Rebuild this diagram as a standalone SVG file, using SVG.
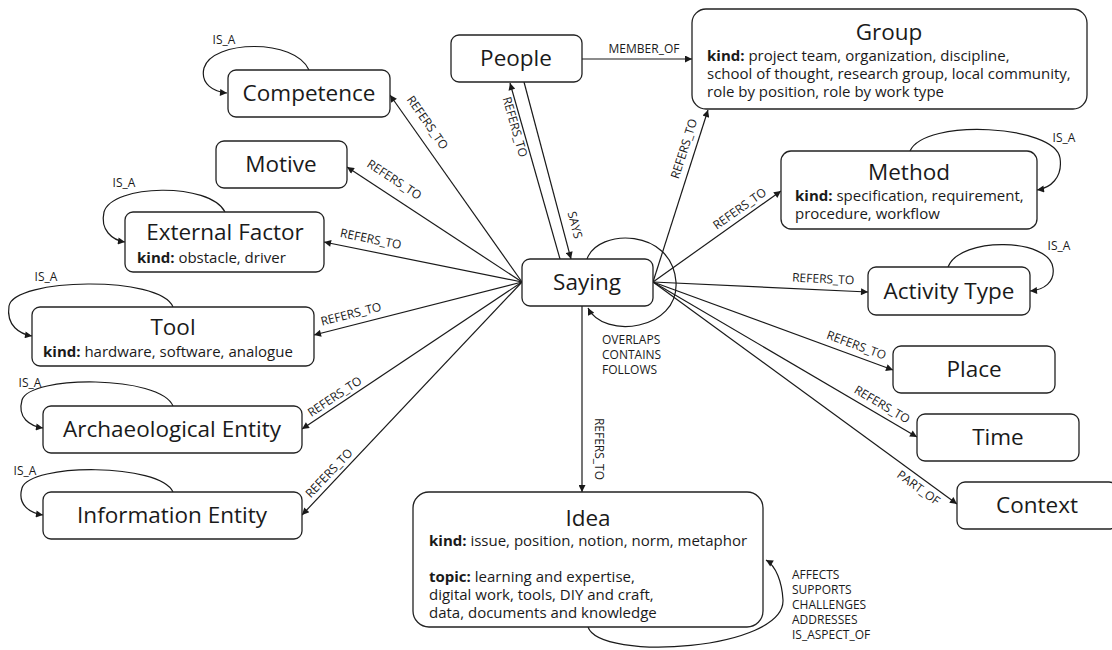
<svg xmlns="http://www.w3.org/2000/svg" width="1112" height="650" viewBox="0 0 1112 650">
<defs>
<marker id="ah" viewBox="0 0 10 10" refX="10" refY="5" markerWidth="9" markerHeight="7" markerUnits="userSpaceOnUse" orient="auto">
<path d="M0,0 L10,5 L0,10 z" fill="#1a1a1a"/>
</marker>
<style>
.box{fill:#fff;stroke:#222;stroke-width:1.3}
.t{font-family:"Open Sans","Noto Sans","DejaVu Sans",sans-serif;font-size:22.5px;fill:#1a1a1a;text-anchor:middle}
.s{font-family:"Open Sans","Noto Sans","DejaVu Sans",sans-serif;font-size:15px;fill:#1a1a1a}
.s tspan.b{font-weight:bold}
.e{fill:none;stroke:#1a1a1a;stroke-width:1.2;marker-end:url(#ah)}
.l{font-family:"Open Sans","Noto Sans","DejaVu Sans",sans-serif;font-size:12px;fill:#1a1a1a;text-anchor:middle}
.la{font-family:"Open Sans","Noto Sans","DejaVu Sans",sans-serif;font-size:12px;fill:#1a1a1a}
</style>
</defs>
<rect width="1112" height="650" fill="#fff"/>

<g id="connectors">
<path class="e" d="M522,282 L390,95"/>
<path class="e" d="M522,282 L347,167"/>
<path class="e" d="M522,282 L324,242"/>
<path class="e" d="M522,282 L314,335"/>
<path class="e" d="M522,282 L302,429"/>
<path class="e" d="M522,282 L302,515"/>
<path class="e" d="M560,259 L510,83"/>
<path class="e" d="M524,82 L571,259"/>
<path class="e" d="M582,59 L692,59"/>
<path class="e" d="M653,282 L708,110"/>
<path class="e" d="M653,282 L781,191"/>
<path class="e" d="M653,282 L868,292"/>
<path class="e" d="M653,282 L893,370"/>
<path class="e" d="M653,282 L917,437"/>
<path class="e" d="M653,282 L957,504"/>
<path class="e" d="M582,306 L582,492"/>
<path class="e" d="M587,259 C598,228 672,228 676,282 C679,330 604,340 588,308"/>
<path class="e" d="M588,627 C600,662 785,650 783,600 C782,582 776,566 766,560"/>
<path class="e" d="M309,70 C295,38 212,40 204,68 C200,84 214,92 227,93"/>
<path class="e" d="M225,212 C210,182 112,184 104,212 C100,230 112,240 125,242"/>
<path class="e" d="M173,307 C160,275 14,278 9,306 C6,326 20,334 32,336"/>
<path class="e" d="M173,406 C160,375 30,375 22,400 C17,418 30,426 43,428"/>
<path class="e" d="M173,492 C160,463 30,463 22,488 C17,505 30,513 43,515"/>
<path class="e" d="M910,151 C925,118 1055,125 1060,158 C1063,178 1050,188 1037,190"/>
<path class="e" d="M948,267 C960,236 1050,238 1053,268 C1055,282 1044,290 1030,291"/>

<text class="l" transform="translate(424,125) rotate(55)">REFERS_TO</text>
<text class="l" transform="translate(392,183) rotate(33.3)">REFERS_TO</text>
<text class="l" transform="translate(370,243) rotate(11.4)">REFERS_TO</text>
<text class="l" transform="translate(352,318) rotate(-14.3)">REFERS_TO</text>
<text class="l" transform="translate(337,400) rotate(-33.7)">REFERS_TO</text>
<text class="l" transform="translate(332,476) rotate(-46.6)">REFERS_TO</text>
<text class="l" transform="translate(511,128) rotate(74)">REFERS_TO</text>
<text class="l" transform="translate(571,226) rotate(75)">SAYS</text>
<text class="l" x="644" y="53">MEMBER_OF</text>
<text class="l" transform="translate(688,150) rotate(-72.3)">REFERS_TO</text>
<text class="l" transform="translate(742,212) rotate(-35.4)">REFERS_TO</text>
<text class="l" transform="translate(823,283) rotate(2.7)">REFERS_TO</text>
<text class="l" transform="translate(855,349) rotate(20.1)">REFERS_TO</text>
<text class="l" transform="translate(880,408) rotate(30.4)">REFERS_TO</text>
<text class="l" transform="translate(916,491) rotate(36.1)">PART_OF</text>
<text class="l" transform="translate(595,449) rotate(90)">REFERS_TO</text>
<text class="la" x="602" y="344">OVERLAPS<tspan x="602" dy="15">CONTAINS</tspan><tspan x="602" dy="15">FOLLOWS</tspan></text>
<text class="la" x="792" y="579">AFFECTS<tspan x="792" dy="15">SUPPORTS</tspan><tspan x="792" dy="15">CHALLENGES</tspan><tspan x="792" dy="15">ADDRESSES</tspan><tspan x="792" dy="15">IS_ASPECT_OF</tspan></text>
<text class="l" x="224" y="44">IS_A</text>
<text class="l" x="124" y="187">IS_A</text>
<text class="l" x="46" y="281">IS_A</text>
<text class="l" x="30" y="387">IS_A</text>
<text class="l" x="25" y="475">IS_A</text>
<text class="l" x="1064" y="142">IS_A</text>
<text class="l" x="1059" y="250">IS_A</text>
</g>

<g id="competence"><rect class="box" x="228" y="70" width="162" height="47" rx="8"/><text class="t" x="309" y="101">Competence</text></g>
<g id="motive"><rect class="box" x="216" y="141" width="131" height="47" rx="8"/><text class="t" x="281" y="172">Motive</text></g>
<g id="external-factor"><rect class="box" x="125" y="212" width="199" height="60" rx="8"/><text class="t" x="225" y="240">External Factor</text><text class="s" x="137" y="263"><tspan class="b">kind:</tspan> obstacle, driver</text></g>
<g id="tool"><rect class="box" x="32" y="307" width="282" height="59" rx="8"/><text class="t" x="173" y="335">Tool</text><text class="s" x="43" y="357"><tspan class="b">kind:</tspan> hardware, software, analogue</text></g>
<g id="archaeological-entity"><rect class="box" x="43" y="406" width="259" height="47" rx="8"/><text class="t" x="172" y="437">Archaeological Entity</text></g>
<g id="information-entity"><rect class="box" x="43" y="492" width="259" height="47" rx="8"/><text class="t" x="172" y="523">Information Entity</text></g>
<g id="people"><rect class="box" x="451" y="35" width="131" height="47" rx="8"/><text class="t" x="516" y="66">People</text></g>
<g id="saying"><rect class="box" x="522" y="259" width="131" height="47" rx="8"/><text class="t" x="587" y="290">Saying</text></g>
<g id="group"><rect class="box" x="692" y="9" width="395" height="100" rx="14"/><text class="t" x="889" y="40">Group</text><text class="s" x="707" y="61"><tspan class="b">kind:</tspan> project team, organization, discipline,<tspan x="707" dy="18">school of thought, research group, local community,</tspan><tspan x="707" dy="18">role by position, role by work type</tspan></text></g>
<g id="method"><rect class="box" x="781" y="151" width="256" height="78" rx="10"/><text class="t" x="909" y="180">Method</text><text class="s" x="795" y="201"><tspan class="b">kind:</tspan> specification, requirement,<tspan x="795" dy="18">procedure, workflow</tspan></text></g>
<g id="activity-type"><rect class="box" x="868" y="267" width="162" height="48" rx="8"/><text class="t" x="949" y="299">Activity Type</text></g>
<g id="place"><rect class="box" x="893" y="346" width="162" height="47" rx="8"/><text class="t" x="974" y="377">Place</text></g>
<g id="time"><rect class="box" x="917" y="414" width="162" height="47" rx="8"/><text class="t" x="998" y="445">Time</text></g>
<g id="context"><rect class="box" x="957" y="482" width="160" height="47" rx="8"/><text class="t" x="1037" y="513">Context</text></g>
<g id="idea"><rect class="box" x="413" y="492" width="350" height="135" rx="16"/><text class="t" x="588" y="526">Idea</text><text class="s" x="429" y="546"><tspan class="b">kind:</tspan> issue, position, notion, norm, metaphor</text><text class="s" x="429" y="582"><tspan class="b">topic:</tspan> learning and expertise,<tspan x="429" dy="18">digital work, tools, DIY and craft,</tspan><tspan x="429" dy="18">data, documents and knowledge</tspan></text></g>
</svg>
